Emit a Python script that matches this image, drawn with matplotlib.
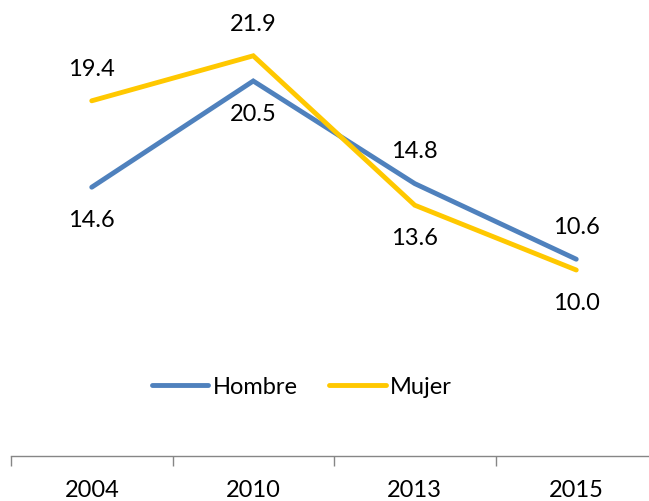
import matplotlib.pyplot as plt
import numpy as np

years = ['2004', '2010', '2013', '2015']
hombre = [14.6, 20.5, 14.8, 10.6]
mujer = [19.4, 21.9, 13.6, 10.0]

# label placement per point: +1 above the line, -1 below
hombre_pos = [-1, -1, 1, 1]
mujer_pos = [1, 1, -1, -1]

plt.rcParams['font.family'] = ['Lato', 'DejaVu Sans']

fig = plt.figure(figsize=(6.49, 5.02), dpi=100)
W, H = 649, 502
# plot area in pixels: x 11..657, y 1..451 (runs off the right edge)
ax = fig.add_axes([11 / W, 1 - 451 / H, 646 / W, 450 / H])

x = np.arange(len(years))
blue = '#4F81BD'
yellow = '#FFC800'
ax.plot(x, hombre, color=blue, lw=3.5, solid_capstyle='round', solid_joinstyle='miter', label='Hombre')
ax.plot(x, mujer, color=yellow, lw=3.5, solid_capstyle='round', solid_joinstyle='miter', label='Mujer')

fs = 17
for vals, pos in [(hombre, hombre_pos), (mujer, mujer_pos)]:
    for xi, v, p in zip(x, vals, pos):
        ax.annotate(f"{v:.1f}", (xi, v), xytext=(0, 23.5 * p), textcoords='offset points',
                    ha='center', va='center', fontsize=fs, color='black')

ax.set_xlim(-0.5, 3.5)
ax.set_ylim(0, 25)
ax.set_yticks([])
for s in ['top', 'right', 'left']:
    ax.spines[s].set_visible(False)
ax.spines['bottom'].set_color('#868686')
ax.spines['bottom'].set_linewidth(1.0)
ax.spines['bottom'].set_position(('outward', 4))

# ticks sit between categories, labels under each category
ax.set_xticks(np.arange(-0.5, 4.0, 1.0))
ax.set_xticklabels([])
ax.set_xticks(x, minor=True)
ax.set_xticklabels(years, minor=True, fontsize=fs)
ax.tick_params(axis='x', which='major', length=7, width=1.0, color='#868686', direction='out')
ax.tick_params(axis='x', which='minor', length=0, pad=17)

fig.legend(loc='center', bbox_to_anchor=(302 / W, 1 - 388 / H), ncol=2, frameon=False,
           fontsize=fs, handlelength=2.4, handletextpad=0.2, columnspacing=1.3)

fig.savefig('out.png', dpi=100)
